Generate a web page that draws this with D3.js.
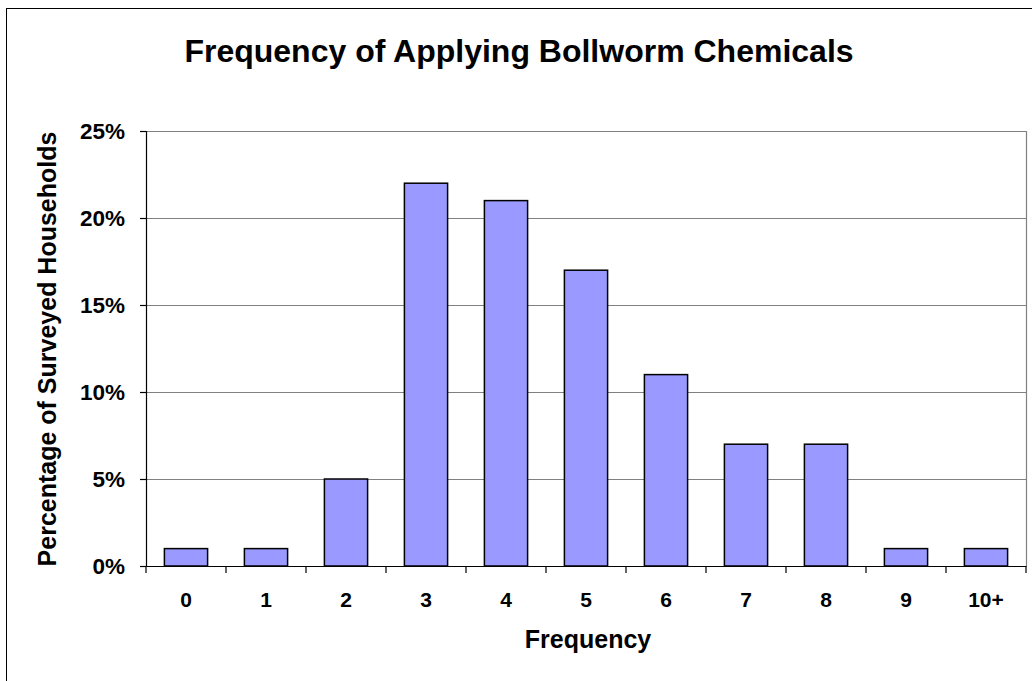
<!DOCTYPE html>
<html><head><meta charset="utf-8">
<script src="https://cdn.jsdelivr.net/npm/d3@7"></script>
<style>body{margin:0;background:#fff;} text{font-family:"Liberation Sans",Arial,sans-serif;font-weight:bold;fill:#000;}</style>
</head><body>
<svg id="c" width="1032" height="681"></svg>
<script>
const categories = ["0","1","2","3","4","5","6","7","8","9","10+"];
const values = [1,1,5,22,21,17,11,7,7,1,1];
const yTicks = [0,5,10,15,20,25];

const svg = d3.select("#c");
const m = {left:146, right:1026, top:131, bottom:566};
svg.append("rect").attr("x",6.5).attr("y",8.5).attr("width",1040).attr("height",700)
  .attr("fill","#fff").attr("stroke","#000").attr("stroke-width",1);

const x = d3.scaleBand().domain(categories).range([m.left,m.right]).paddingInner(0.46).paddingOuter(0.23);
const xb = d3.scaleBand().domain(categories).range([m.left,m.right]);
const y = d3.scaleLinear().domain([0,25]).range([m.bottom,m.top]);

// gridlines
svg.append("g").selectAll("line").data(yTicks.filter(d=>d>0)).join("line")
  .attr("x1",m.left).attr("x2",m.right).attr("y1",d=>Math.round(y(d))+0.5).attr("y2",d=>Math.round(y(d))+0.5)
  .attr("stroke","#808080").attr("stroke-width",1.2);
// right border of plot
svg.append("line").attr("x1",m.right+0.5).attr("x2",m.right+0.5).attr("y1",m.top).attr("y2",m.bottom)
  .attr("stroke","#808080").attr("stroke-width",1.2);

// bars
svg.append("g").selectAll("rect").data(values).join("rect")
  .attr("x",(d,i)=>x(categories[i])).attr("width",x.bandwidth())
  .attr("y",d=>y(d)).attr("height",d=>y(0)-y(d))
  .attr("fill","#9999FF").attr("stroke","#000").attr("stroke-width",1.5);

// y axis
const ya = svg.append("g").attr("transform",`translate(${m.left},0)`)
  .call(d3.axisLeft(y).tickValues(yTicks).tickFormat(d=>d+"%").tickSize(6).tickPadding(15));
ya.select(".domain").attr("stroke","#000").attr("stroke-width",1.2);
ya.selectAll(".tick line").attr("stroke","#000").attr("stroke-width",1.2);
ya.selectAll("text").attr("font-size",22.5).attr("font-family","Liberation Sans, Arial").attr("font-weight","bold").attr("fill","#000");

// x axis
const xa = svg.append("g").attr("transform",`translate(0,${m.bottom})`)
  .call(d3.axisBottom(xb).tickSize(0).tickPadding(26));
xa.select(".domain").attr("stroke","#000").attr("stroke-width",1.2);
xa.selectAll("text").attr("font-size",21).attr("font-family","Liberation Sans, Arial").attr("font-weight","bold").attr("fill","#000");
const bounds = categories.map(c=>xb(c)).concat([m.right]);
svg.append("g").selectAll("line").data(bounds).join("line")
  .attr("x1",d=>d).attr("x2",d=>d).attr("y1",m.bottom).attr("y2",m.bottom+7)
  .attr("stroke","#000").attr("stroke-width",1.2);

// titles
svg.append("text").attr("x",519).attr("y",62).attr("text-anchor","middle").attr("font-size",32)
  .text("Frequency of Applying Bollworm Chemicals");
svg.append("text").attr("x",588).attr("y",648).attr("text-anchor","middle").attr("font-size",25)
  .text("Frequency");
svg.append("text").attr("transform","translate(56,349) rotate(-90)").attr("text-anchor","middle").attr("font-size",25)
  .text("Percentage of Surveyed Households");
</script>
</body></html>
